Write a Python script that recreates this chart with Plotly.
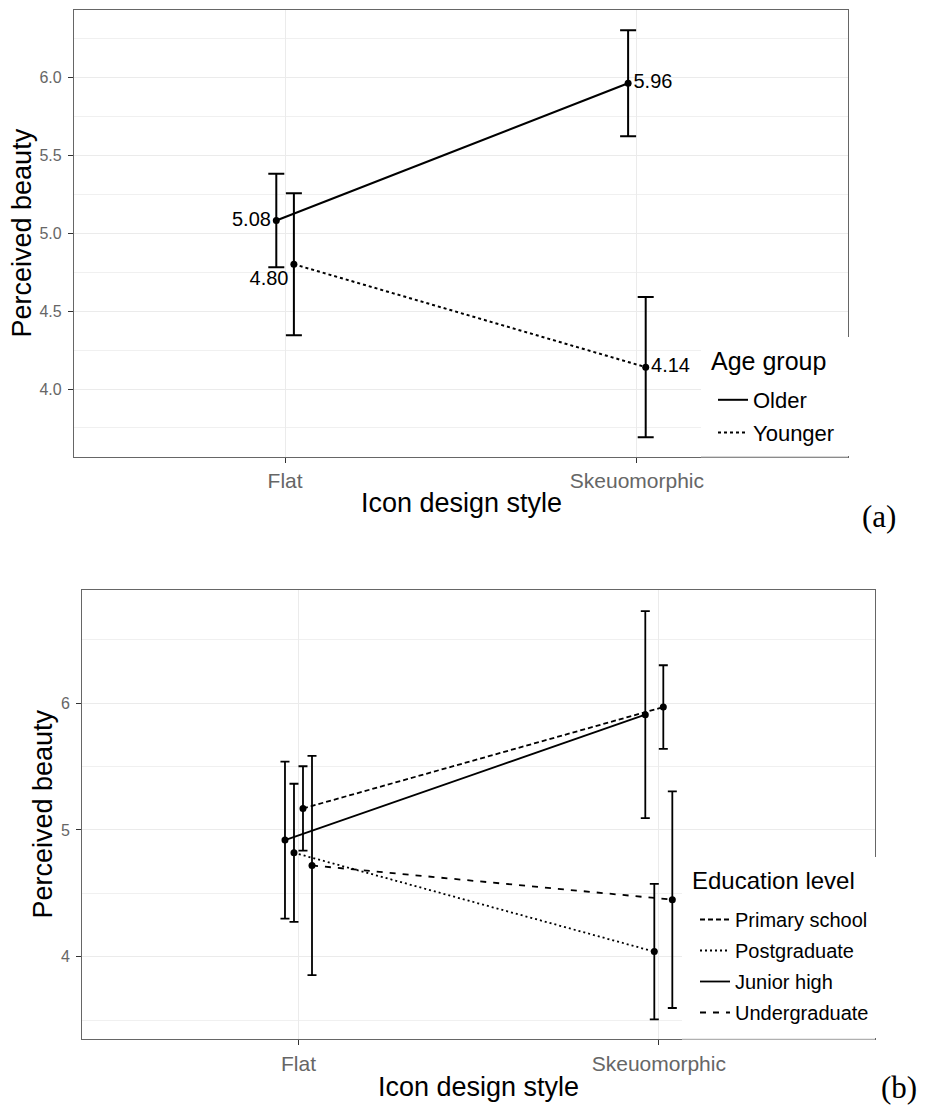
import plotly.graph_objects as go

# ---------------- data ----------------
styles = ["Flat", "Skeuomorphic"]

age_groups = ["Older", "Younger"]
age_means = {"Older": [5.08, 5.96], "Younger": [4.80, 4.14]}
age_err = {"Older": [0.30, 0.34], "Younger": [0.455, 0.45]}
age_labels = {"Older": ["5.08", "5.96"], "Younger": ["4.80", "4.14"]}

edu_levels = ["Primary school", "Postgraduate", "Junior high", "Undergraduate"]
edu_means = {
    "Primary school": [5.17, 5.97],
    "Postgraduate": [4.82, 4.04],
    "Junior high": [4.92, 5.91],
    "Undergraduate": [4.72, 4.45],
}
edu_err = {
    "Primary school": [0.333, 0.33],
    "Postgraduate": [0.545, 0.534],
    "Junior high": [0.62, 0.817],
    "Undergraduate": [0.865, 0.855],
}

# ---------------- styles ----------------
FONT = "Liberation Sans, Arial, sans-serif"
SERIF = "Liberation Serif, Times New Roman, serif"
W, H, OFF = 912, 1100, 8   # page has an 8px body margin


def px(x):  # page x -> paper fraction
    return (x - OFF) / W


def py(y):  # page y -> paper fraction
    return 1 - (y - OFF) / H


age_dodge = {"Older": -0.025, "Younger": 0.025}
age_dash = {"Older": "solid", "Younger": "3px,3px"}
age_textpos = {"Older": ["middle left", "middle right"],
               "Younger": ["bottom left", "middle right"]}

edu_dodge = {"Junior high": -0.0375, "Postgraduate": -0.0125,
             "Primary school": 0.0125, "Undergraduate": 0.0375}
edu_dash = {"Primary school": "5px,3px", "Postgraduate": "2px,3px",
            "Junior high": "solid", "Undergraduate": "6px,7px"}

fig = go.Figure()

for g in age_groups:
    xs = [i + 1 + age_dodge[g] for i in range(len(styles))]
    fig.add_trace(go.Scatter(
        x=xs, y=age_means[g], name=g, mode="lines+markers+text",
        text=age_labels[g], textposition=age_textpos[g],
        textfont=dict(family=FONT, size=20, color="black"),
        line=dict(color="black", width=2, dash=age_dash[g]),
        marker=dict(color="black", size=7),
        error_y=dict(type="data", array=age_err[g], color="black",
                     thickness=2, width=8),
        xaxis="x", yaxis="y", showlegend=False, legendgroup=g,
    ))
    # legend entry (line only, as in the reference key)
    fig.add_trace(go.Scatter(
        x=[None], y=[None], name=g, mode="lines",
        line=dict(color="black", width=2, dash=age_dash[g]),
        xaxis="x", yaxis="y", legend="legend", legendgroup=g,
    ))

for e in edu_levels:
    xs = [i + 1 + edu_dodge[e] for i in range(len(styles))]
    fig.add_trace(go.Scatter(
        x=xs, y=edu_means[e], name=e, mode="lines+markers",
        line=dict(color="black", width=1.8, dash=edu_dash[e]),
        marker=dict(color="black", size=7),
        error_y=dict(type="data", array=edu_err[e], color="black",
                     thickness=1.8, width=4.5),
        xaxis="x2", yaxis="y2", showlegend=False, legendgroup=e,
    ))
    fig.add_trace(go.Scatter(
        x=[None], y=[None], name=e, mode="lines",
        line=dict(color="black", width=1.8, dash=edu_dash[e]),
        xaxis="x2", yaxis="y2", legend="legend2", legendgroup=e,
    ))

GRID = "#EBEBEB"
BORDER = "#666666"
TICKC = "#666666"

xcommon = dict(range=[0.4, 2.6], tickmode="array", tickvals=[1, 2],
               ticktext=styles, showgrid=True, gridcolor=GRID, gridwidth=1.3,
               showline=True, mirror=True, linecolor=BORDER, linewidth=1.2,
               ticks="outside", ticklen=5, tickcolor="#333333", tickwidth=1,
               tickfont=dict(family=FONT, size=21, color=TICKC),
               zeroline=False)
ycommon = dict(showgrid=True, gridcolor=GRID, gridwidth=1.3,
               showline=True, mirror=True, linecolor=BORDER, linewidth=1.2,
               ticks="outside", ticklen=5, tickcolor="#333333", tickwidth=1,
               tickfont=dict(family=FONT, size=16, color=TICKC),
               ticklabelstandoff=3, zeroline=False)


def ann(text, x, y, size, family=FONT, angle=0, xanchor="center",
        yanchor="middle", bg=None):
    d = dict(text=text, xref="paper", yref="paper", x=px(x), y=py(y),
             textangle=angle, showarrow=False, xanchor=xanchor,
             yanchor=yanchor, font=dict(family=family, size=size, color="black"))
    if bg:
        d["bgcolor"] = bg
    return d


# white key backgrounds that sit over the panel (as in the reference)
key_boxes = [
    dict(type="rect", xref="paper", yref="paper", layer="above",
         x0=px(701), x1=px(851), y0=py(456), y1=py(337),
         fillcolor="white", line=dict(width=0)),
    dict(type="rect", xref="paper", yref="paper", layer="above",
         x0=px(682), x1=px(878), y0=py(1038), y1=py(857),
         fillcolor="white", line=dict(width=0)),
    # faint lower edge of the key boxes
    dict(type="line", xref="paper", yref="paper", layer="above",
         x0=px(701), x1=px(848), y0=py(457), y1=py(457),
         line=dict(color="#B0B0B0", width=1.2)),
    dict(type="line", xref="paper", yref="paper", layer="above",
         x0=px(682), x1=px(875), y0=py(1039.3), y1=py(1039.3),
         line=dict(color="#B0B0B0", width=1.2)),
]

fig.update_layout(
    width=W, height=H,
    margin=dict(l=0, r=0, t=0, b=0),
    paper_bgcolor="white", plot_bgcolor="white",
    font=dict(family=FONT, color="black"),
    showlegend=True,
    xaxis=dict(domain=[px(74), px(848)], anchor="y", **xcommon),
    yaxis=dict(domain=[py(457), py(10)], anchor="x",
               range=[3.564, 6.43], tick0=4, dtick=0.5, tickformat=".1f",
               minor=dict(tick0=4, dtick=0.25, showgrid=True,
                          gridcolor="#F0F0F0", gridwidth=1, ticks=""),
               **ycommon),
    xaxis2=dict(domain=[px(82.3), px(875)], anchor="y2", **xcommon),
    yaxis2=dict(domain=[py(1039.3), py(590)], anchor="x2",
                range=[3.348, 6.894], tick0=4, dtick=1,
                minor=dict(tick0=4, dtick=0.5, showgrid=True,
                           gridcolor="#F0F0F0", gridwidth=1, ticks=""),
                **ycommon),
    legend=dict(x=px(713), xanchor="left", y=py(379), yanchor="top",
                bgcolor="rgba(0,0,0,0)", borderwidth=0,
                font=dict(size=22, family=FONT), tracegroupgap=1),
    legend2=dict(x=px(695), xanchor="left", y=py(900), yanchor="top",
                 bgcolor="rgba(0,0,0,0)", borderwidth=0,
                 font=dict(size=20, family=FONT), tracegroupgap=2),
    shapes=key_boxes,
    annotations=[
        ann("Perceived beauty", 22, 233.5, 27, angle=-90),
        ann("Icon design style", 461, 503, 27),
        ann("(a)", 879, 517, 31, family=SERIF),
        ann("Age group", 709, 361, 25, xanchor="left"),
        ann("Perceived beauty", 43, 814.6, 27, angle=-90),
        ann("Icon design style", 478, 1086.7, 27),
        ann("(b)", 919, 1107, 31, family=SERIF, xanchor="right",
            yanchor="bottom"),
        ann("Education level", 690, 880, 24, xanchor="left"),
    ],
)

fig.write_html("out.html")
